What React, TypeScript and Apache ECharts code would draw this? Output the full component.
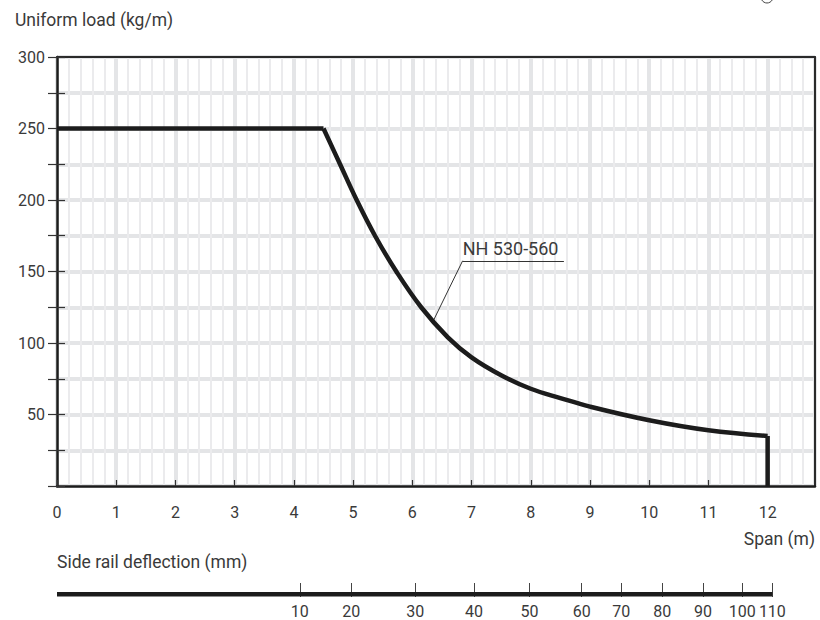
import React, { useEffect, useRef } from "react";
import * as echarts from "echarts";

// Load curve (span in m, uniform load in kg/m)
const curveSpan = [0, 4.5, 4.78, 5.06, 5.37, 5.73, 6.15, 6.6, 7.0, 7.5, 8, 8.5, 9, 10, 11, 12, 12];
const curveLoad = [250, 250, 225, 200, 175, 150, 125, 104, 90, 77.5, 68, 61.5, 55.5, 46, 39, 35, 0];

// Deflection scale: label value and its position on the span axis
const deflectionLabels = [10, 20, 30, 40, 50, 60, 70, 80, 90, 100, 110];
const deflectionAtSpan = [4.1, 4.97, 6.05, 7.04, 7.98, 8.86, 9.53, 10.22, 10.91, 11.57, 12.08];
const deflectionLineSpan = [0, 12.08];

// Annotation
const annotationText = "NH 530-560";
const annotationLeader = [
  [6.36, 116],
  [6.85, 157.5],
];
const annotationUnderline = [
  [6.85, 157.5],
  [8.56, 157.5],
];

const FONT = "Roboto, 'Noto Sans', sans-serif";
const INK = "#1c1c1c";
const TEXT = "#3a3a3a";

function pairs(from: number, to: number) {
  const out: number[][] = [];
  for (let i = from; i <= to; i++) out.push([curveSpan[i], curveLoad[i]]);
  return out;
}

export default function App() {
  const ref = useRef<HTMLDivElement>(null);
  useEffect(() => {
    const chart = echarts.init(ref.current!, null, { renderer: "svg" });
    const lineStyle = { color: INK, width: 4.5 };
    const last = curveSpan.length - 1;
    const option: any = {
      animation: false,
      backgroundColor: "#ffffff",
      textStyle: { fontFamily: FONT },
      grid: [
        { left: 57, top: 57, width: 758, height: 429 },
        { left: 57, top: 583, width: 758, height: 14 },
      ],
      xAxis: [
        {
          gridIndex: 0,
          type: "value",
          min: 0,
          max: 12.8,
          interval: 1,
          axisLine: { show: true, onZero: false, lineStyle: { color: INK, width: 2.5 } },
          axisTick: { show: true, inside: true, length: 6, lineStyle: { color: "#333", width: 1.2 } },
          axisLabel: { color: TEXT, fontSize: 16, margin: 18, showMaxLabel: false, fontFamily: FONT },
          splitLine: { show: true, lineStyle: { color: "#e4e5e7", width: 4 } },
          minorTick: { show: false, splitNumber: 5 },
          minorSplitLine: { show: true, lineStyle: { color: "#ebebed", width: 2 } },
          z: 3,
        },
        {
          gridIndex: 0,
          type: "value",
          position: "top",
          min: 0,
          max: 12.8,
          axisLine: { show: true, onZero: false, lineStyle: { color: "#2a2a2a", width: 2 } },
          axisTick: { show: false },
          axisLabel: { show: false },
          splitLine: { show: false },
          z: 3,
        },
        {
          gridIndex: 1,
          type: "value",
          min: 0,
          max: 12.8,
          axisLine: { show: false, onZero: false },
          axisTick: {
            show: true,
            inside: true,
            length: 14,
            customValues: deflectionAtSpan,
            lineStyle: { color: "#444", width: 1 },
          },
          axisLabel: {
            show: true,
            customValues: deflectionAtSpan,
            color: TEXT,
            fontSize: 16,
            margin: 6,
            fontFamily: FONT,
            formatter: (v: number) => {
              const i = deflectionAtSpan.findIndex((s) => Math.abs(s - v) < 1e-6);
              return i >= 0 ? String(deflectionLabels[i]) : "";
            },
          },
          splitLine: { show: false },
        },
      ],
      yAxis: [
        {
          gridIndex: 0,
          type: "value",
          min: 0,
          max: 300,
          interval: 25,
          axisLine: { show: true, onZero: false, lineStyle: { color: INK, width: 2.5 } },
          axisTick: { show: true, length: 9, lineStyle: { color: "#333", width: 1.2 } },
          axisLabel: {
            color: TEXT,
            fontSize: 16,
            margin: 12,
            fontFamily: FONT,
            formatter: (v: number) => (v % 50 === 0 && v !== 0 ? String(v) : ""),
          },
          splitLine: { show: true, lineStyle: { color: "#e4e5e7", width: 4 } },
          z: 3,
        },
        {
          gridIndex: 0,
          type: "value",
          position: "right",
          min: 0,
          max: 300,
          axisLine: { show: true, onZero: false, lineStyle: { color: "#2a2a2a", width: 2 } },
          axisTick: { show: false },
          axisLabel: { show: false },
          splitLine: { show: false },
          z: 3,
        },
        {
          gridIndex: 1,
          type: "value",
          min: 0,
          max: 1,
          show: false,
        },
        {
          gridIndex: 0,
          type: "value",
          position: "left",
          min: 0,
          max: 300,
          interval: 25,
          axisLine: { show: false, onZero: false },
          axisTick: { show: true, inside: true, length: 8, lineStyle: { color: "#333", width: 1.2 } },
          axisLabel: { show: false },
          splitLine: { show: false },
          z: 3,
        },
      ],
      series: [
        {
          type: "line",
          xAxisIndex: 0,
          yAxisIndex: 0,
          data: pairs(0, 1),
          symbol: "none",
          lineStyle,
          z: 5,
        },
        {
          type: "line",
          xAxisIndex: 0,
          yAxisIndex: 0,
          data: pairs(1, last - 1),
          symbol: "none",
          smooth: 0.4,
          lineStyle,
          z: 5,
          markLine: {
            silent: true,
            symbol: ["none", "none"],
            lineStyle: { color: "#333", width: 1, type: "solid" },
            label: { show: false },
            data: [
              [
                { coord: annotationLeader[0] },
                { coord: annotationLeader[1] },
              ],
              [
                {
                  coord: annotationUnderline[0],
                  label: {
                    show: true,
                    position: "insideStartTop",
                    formatter: annotationText,
                    color: TEXT,
                    fontSize: 18,
                    fontFamily: FONT,
                    distance: [0, 3],
                  },
                },
                { coord: annotationUnderline[1] },
              ],
            ],
          },
        },
        {
          type: "line",
          xAxisIndex: 0,
          yAxisIndex: 0,
          data: pairs(last - 1, last),
          symbol: "none",
          lineStyle,
          z: 5,
        },
        {
          type: "line",
          xAxisIndex: 2,
          yAxisIndex: 2,
          data: deflectionLineSpan.map((s) => [s, 0.2]),
          symbol: "none",
          lineStyle,
          z: 5,
        },
      ],
      graphic: [
        {
          type: "text",
          left: 15,
          top: 11,
          style: { text: "Uniform load (kg/m)", fill: TEXT, font: `17.5px ${FONT}` },
        },
        {
          type: "text",
          right: 5,
          top: 530,
          style: { text: "Span (m)", fill: TEXT, font: `17.5px ${FONT}` },
        },
        {
          type: "text",
          left: 57,
          top: 553,
          style: { text: "Side rail deflection (mm)", fill: TEXT, font: `17.5px ${FONT}` },
        },
        {
          type: "circle",
          shape: { cx: 767, cy: -3, r: 6 },
          style: { fill: "none", stroke: "#444", lineWidth: 1 },
        },
      ],
    };
    chart.setOption(option);
    return () => chart.dispose();
  }, []);
  return (
    <div
      ref={ref}
      style={{ position: "absolute", left: 0, top: 0, width: 820, height: 620 }}
    />
  );
}
